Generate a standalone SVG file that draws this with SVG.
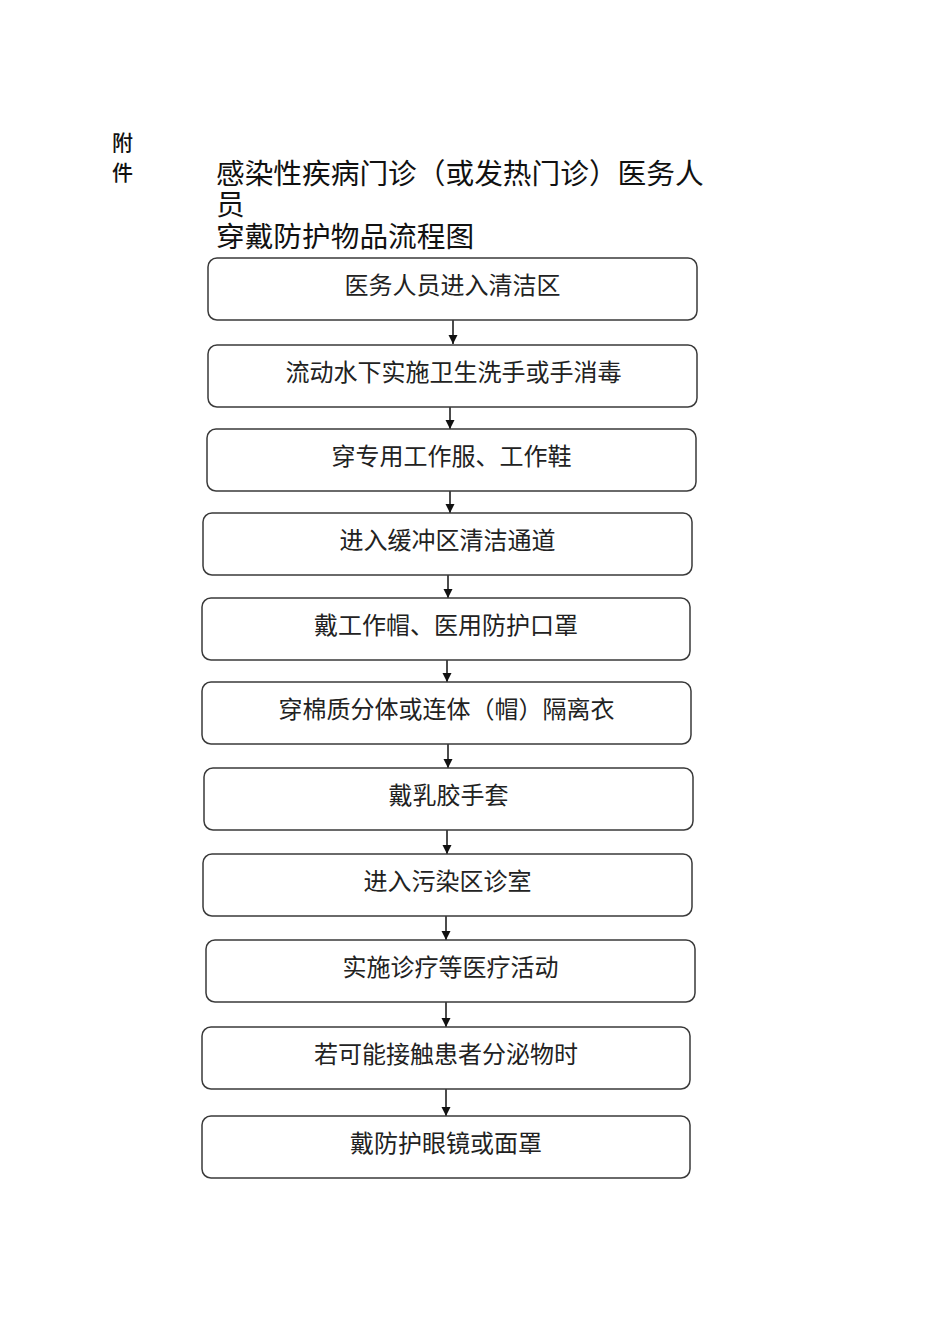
<svg xmlns="http://www.w3.org/2000/svg" width="950" height="1344" viewBox="0 0 950 1344">
<style>
.box{fill:#fff;stroke:#3a3a3a;stroke-width:1.5}
.t{font-family:"Liberation Serif","Noto Sans CJK SC",serif;font-size:24px;fill:#222;text-anchor:middle}
.title{font-family:"Liberation Serif","Noto Sans CJK SC",serif;font-size:28.7px;fill:#111}
.fj{font-family:"Liberation Sans","Noto Sans CJK SC",sans-serif;font-size:21px;font-weight:500;fill:#111}
.c{stroke:#111;stroke-width:1.5;fill:none;marker-end:url(#ah)}
</style>
<defs>
<marker id="ah" markerWidth="10" markerHeight="10" refX="9" refY="4.5" orient="auto" markerUnits="userSpaceOnUse">
<path d="M0,0 L9,4.5 L0,9 Z" fill="#111"/>
</marker>
</defs>
<rect width="950" height="1344" fill="#fff"/>
<g id="header">
<text class="fj" x="112" y="150">附</text>
<text class="fj" x="112" y="180">件</text>
<text class="title" x="216" y="184">感染性疾病门诊（或发热门诊）医务人</text>
<text class="title" x="216" y="215">员</text>
<text class="title" x="216" y="247">穿戴防护物品流程图</text>
</g>
<g id="connectors">
<line class="c" x1="453" y1="320" x2="453" y2="344"/>
<line class="c" x1="450" y1="407" x2="450" y2="429"/>
<line class="c" x1="450" y1="491" x2="450" y2="513"/>
<line class="c" x1="448" y1="575" x2="448" y2="598"/>
<line class="c" x1="447" y1="660" x2="447" y2="682"/>
<line class="c" x1="448" y1="744" x2="448" y2="768"/>
<line class="c" x1="447" y1="830" x2="447" y2="854"/>
<line class="c" x1="446" y1="916" x2="446" y2="940"/>
<line class="c" x1="446" y1="1002" x2="446" y2="1027"/>
<line class="c" x1="446" y1="1089" x2="446" y2="1116"/>
</g>
<g id="n1"><rect class="box" x="208" y="258" width="489" height="62" rx="9"/><text class="t" x="452.5" y="294">医务人员进入清洁区</text></g>
<g id="n2"><rect class="box" x="208" y="345" width="489" height="62" rx="9"/><text class="t" x="453.5" y="381">流动水下实施卫生洗手或手消毒</text></g>
<g id="n3"><rect class="box" x="207" y="429" width="489" height="62" rx="9"/><text class="t" x="451.5" y="465">穿专用工作服、工作鞋</text></g>
<g id="n4"><rect class="box" x="203" y="513" width="489" height="62" rx="9"/><text class="t" x="447.5" y="549">进入缓冲区清洁通道</text></g>
<g id="n5"><rect class="box" x="202" y="598" width="488" height="62" rx="9"/><text class="t" x="446" y="634">戴工作帽、医用防护口罩</text></g>
<g id="n6"><rect class="box" x="202" y="682" width="489" height="62" rx="9"/><text class="t" x="446.5" y="718">穿棉质分体或连体（帽）隔离衣</text></g>
<g id="n7"><rect class="box" x="204" y="768" width="489" height="62" rx="9"/><text class="t" x="448.5" y="804">戴乳胶手套</text></g>
<g id="n8"><rect class="box" x="203" y="854" width="489" height="62" rx="9"/><text class="t" x="447.5" y="890">进入污染区诊室</text></g>
<g id="n9"><rect class="box" x="206" y="940" width="489" height="62" rx="9"/><text class="t" x="450.5" y="976">实施诊疗等医疗活动</text></g>
<g id="n10"><rect class="box" x="202" y="1027" width="488" height="62" rx="9"/><text class="t" x="446" y="1063">若可能接触患者分泌物时</text></g>
<g id="n11"><rect class="box" x="202" y="1116" width="488" height="62" rx="9"/><text class="t" x="446" y="1152">戴防护眼镜或面罩</text></g>
</svg>
